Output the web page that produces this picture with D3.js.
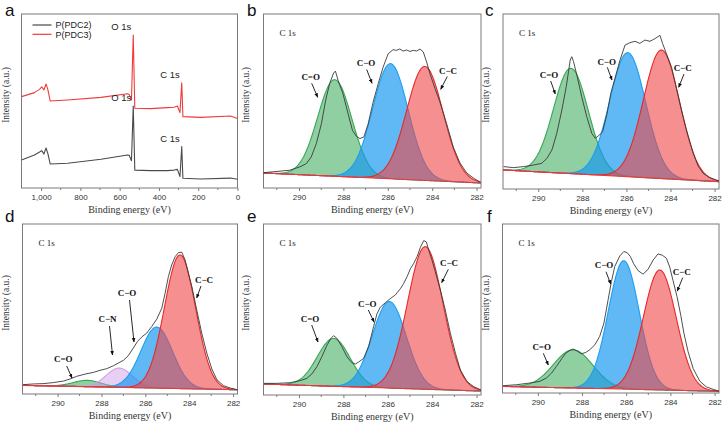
<!DOCTYPE html>
<html><head><meta charset="utf-8">
<script src="https://cdn.jsdelivr.net/npm/d3@7"></script>
<style>
html,body{margin:0;padding:0;background:#fff;}
svg{display:block;}
</style></head><body>
<svg id="chart" width="724" height="426"></svg>
<script>
// ================= DATA =================
// (a) XPS survey
const surveySeries = ["P(PDC2)", "P(PDC3)"];
const surveyEnergy = [1100,1034,1008,997,986,975,966,954,865,695,560,552,540,531,523,442,357,323,306,293,284,278,188,36,0];
const surveyPDC2   = [16.1,19.0,20.7,21.5,19.5,23.0,19.9,13.8,14.2,16.5,19.0,18.8,15.7,47.1,10.3,10.0,10.0,10.3,10.7,6.5,23.8,5.6,5.2,5.7,5.0];
const surveyPDC3   = [52.5,54.8,56.7,58.2,56.3,59.8,56.7,50.0,50.6,52.1,54.2,53.8,50.6,87.9,45.8,45.6,46.2,46.4,47.1,43.3,60.5,41.0,40.6,41.4,40.0];
const surveyXTicks = [1000,800,600,400,200,0];
const surveyXMinor = [900,700,500,300,100];

// (b–f) C 1s high-resolution spectra
const c1sXTicks = [290,288,286,284,282];
const c1sXMinor = [291,289,287,285,283];

const bEnergy = [291.60,290.43,289.97,289.67,289.45,289.22,288.99,288.80,288.62,288.44,288.36,288.24,288.02,287.79,287.59,287.41,287.26,287.08,286.89,286.66,286.43,286.21,285.98,285.76,285.61,285.46,285.31,285.15,285.00,284.85,284.70,284.55,284.40,284.25,284.10,283.87,283.65,283.35,283.05,282.75,282.44,282.14,281.84];
const bRaw    = [8.8,10.2,12.1,14.0,17.8,25.5,37.0,50.4,60.0,66.1,67.2,61.9,54.2,42.7,33.1,29.7,28.4,29.3,36.6,49.4,60.0,69.5,77.2,79.5,79.1,79.9,78.7,79.3,78.5,79.1,78.7,79.9,78.2,72.4,65.7,57.1,49.4,37.0,23.6,14.4,8.6,5.7,3.4];
const bBaseline = [8.6, 2.9];
const bPeaks  = ["C=O","C−O","C−C"];
const bCenter = [288.39,285.88,284.33];
const bHeight = [55.5,66.2,65.5];
const bFwhm   = [1.81,1.88,1.93];

const cEnergy = [291.57,291.12,290.66,290.21,289.84,289.61,289.38,289.16,288.93,288.73,288.63,288.55,288.48,288.40,288.25,288.03,287.80,287.57,287.42,287.27,287.08,286.89,286.71,286.52,286.29,286.06,285.84,285.61,285.39,285.16,284.93,284.71,284.48,284.36,284.18,283.95,283.73,283.50,283.27,282.97,282.75,282.52,282.22,281.80];
const cRaw    = [12.8,12.2,12.8,13.7,14.7,17.5,22.3,31.8,45.1,58.5,67.0,73.7,75.6,72.8,65.1,52.8,41.3,31.8,29.0,30.3,32.8,42.3,54.7,63.2,73.7,82.3,83.6,84.4,83.2,85.1,84.4,85.9,87.8,83.2,77.1,69.5,57.5,45.0,33.5,20.5,13.2,9.0,6.5,4.6];
const cBaseline = [10.9, 4.2];
const cPeaks  = ["C=O","C−O","C−C"];
const cCenter = [288.52,285.94,284.41];
const cHeight = [60.2,70.9,73.4];
const cFwhm   = [1.86,1.92,1.93];

const dEnergy = [291.57,291.11,290.66,290.20,289.74,289.44,289.13,288.75,288.37,288.07,287.76,287.46,287.23,287.00,286.78,286.55,286.36,286.17,285.94,285.71,285.48,285.25,285.10,284.95,284.80,284.64,284.49,284.34,284.19,284.04,283.88,283.66,283.43,283.20,282.97,282.74,282.44,282.13,281.80];
const dRaw    = [5.5,5.9,6.1,6.7,7.6,8.8,10.4,11.7,12.7,13.9,14.9,16.6,18.2,19.8,22.5,27.0,30.9,33.5,35.8,39.7,44.0,50.5,59.3,69.1,75.9,80.8,83.2,83.4,78.9,71.0,63.2,49.5,35.8,24.1,14.7,8.4,4.9,3.5,2.5];
const dBaseline = [5.1, 2.5];
const dPeaks  = ["C=O","C−N","C−O","C−C"];
const dCenter = [288.65,287.19,285.48,284.42];
const dHeight = [3.7,11.3,35.9,78.6];
const dFwhm   = [1.5,1.4,1.7,1.67];

const eEnergy = [291.57,291.00,290.40,289.95,289.65,289.42,289.19,288.97,288.74,288.56,288.44,288.29,288.07,287.84,287.62,287.46,287.31,287.09,286.86,286.64,286.49,286.34,286.11,285.89,285.66,285.43,285.28,285.13,284.98,284.83,284.68,284.53,284.38,284.26,284.16,284.01,283.86,283.63,283.41,283.18,282.95,282.73,282.43,282.13,281.80];
const eRaw    = [6.8,6.8,7.2,8.4,9.7,12.3,16.6,22.4,29.2,33.1,34.7,33.1,28.3,22.4,18.9,18.1,19.3,21.4,28.5,40.0,47.4,51.3,54.0,56.3,58.5,62.2,65.3,69.2,73.9,77.0,80.9,86.4,90.3,89.5,84.8,78.9,72.1,61.4,49.7,36.1,24.4,14.6,7.8,4.9,2.9];
const eBaseline = [6.4, 2.3];
const ePeaks  = ["C=O","C−O","C−C"];
const eCenter = [288.44,285.93,284.31];
const eHeight = [28.0,50.6,83.4];
const eFwhm   = [1.74,1.8,1.88];

const fEnergy = [291.57,290.97,290.36,289.91,289.61,289.38,289.16,288.93,288.73,288.55,288.40,288.22,288.03,287.83,287.65,287.42,287.20,287.01,286.82,286.67,286.52,286.29,286.11,285.96,285.81,285.66,285.46,285.24,285.01,284.78,284.56,284.36,284.18,284.03,283.88,283.70,283.53,283.39,283.20,282.97,282.67,282.37,282.07,281.80];
const fRaw    = [4.3,4.9,5.9,6.9,8.9,11.8,15.7,20.1,23.6,25.2,26.0,24.8,23.2,24.0,25.6,28.5,33.5,41.3,55.1,65.9,74.8,81.1,83.7,83.1,80.7,76.4,72.4,70.3,73.2,78.7,82.3,81.5,79.7,74.5,66.5,57.0,46.0,35.5,24.5,14.5,7.0,3.6,2.2,1.0];
const fBaseline = [3.9, 1.0];
const fPeaks  = ["C=O","C−O","C−C"];
const fCenter = [288.40,286.11,284.48];
const fHeight = [22.6,76.0,71.0];
const fFwhm   = [2.1,1.65,1.75];

// ================= LAYOUT / STYLE =================
const svg = d3.select("#chart");
const SANS = "'Liberation Sans', Arial, sans-serif";
const SERIF = "'Liberation Serif', 'Times New Roman', serif";
const frameColor = "#7b7b7b";
const C1S_DOMAIN = [291.6, 281.8];

const panels = {
  a: {x0: 21.5, x1: 237.5, y0: 14, y1: 188, tag: [5, 16], yt: [9, 95]},
  b: {x0: 263.5, x1: 481, y0: 14, y1: 188, tag: [247, 16], yt: [249, 95]},
  c: {x0: 503, x1: 719, y0: 14, y1: 189, tag: [485, 16], yt: [489, 95]},
  d: {x0: 22.5, x1: 237.5, y0: 224, y1: 394, tag: [5, 222], yt: [9, 303]},
  e: {x0: 263.5, x1: 481, y0: 224, y1: 395, tag: [247, 222], yt: [249, 303]},
  f: {x0: 502.5, x1: 719, y0: 224, y1: 393, tag: [487, 222], yt: [489, 303]}
};

const peakStyle = {
  "C=O": {fill: "rgb(70,175,100)", stroke: "#35a853", op: 0.6},
  "C−O": {fill: "rgb(20,150,240)", stroke: "#1a9ff0", op: 0.68},
  "C−C": {fill: "rgb(240,70,70)", stroke: "#e82828", op: 0.6},
  "C−N": {fill: "rgb(205,150,232)", stroke: "#d79be6", op: 0.45}
};

svg.append("defs").append("marker")
  .attr("id", "arr").attr("viewBox", "0 0 10 10").attr("refX", 9).attr("refY", 5)
  .attr("markerWidth", 5).attr("markerHeight", 5).attr("orient", "auto")
  .append("path").attr("d", "M0,1 L10,5 L0,9 Z").attr("fill", "#111");

function panelBase(P, key, xScale, majors, minors) {
  svg.append("rect").attr("x", P.x0).attr("y", P.y0)
    .attr("width", P.x1 - P.x0).attr("height", P.y1 - P.y0)
    .attr("fill", "none").attr("stroke", frameColor).attr("stroke-width", 1);
  const g = svg.append("g").attr("transform", `translate(0,${P.y1})`);
  g.call(d3.axisBottom(xScale).tickValues(majors).tickSize(3).tickSizeOuter(0).tickPadding(3));
  g.select(".domain").remove();
  g.selectAll("line").attr("stroke", frameColor);
  g.selectAll("text").attr("font-family", SANS).attr("font-size", 8).attr("fill", "#333");
  g.selectAll("line.minor").data(minors).enter().append("line").attr("class", "minor")
    .attr("x1", d => xScale(d)).attr("x2", d => xScale(d)).attr("y1", 0).attr("y2", 2)
    .attr("stroke", frameColor);
  svg.append("text").attr("x", (P.x0 + P.x1) / 2).attr("y", P.y1 + 24.5)
    .attr("text-anchor", "middle").attr("font-family", SERIF).attr("font-size", 10)
    .attr("fill", "#333").text("Binding energy (eV)");
  svg.append("text").attr("transform", `translate(${P.yt[0]},${P.yt[1]}) rotate(-90)`)
    .attr("text-anchor", "middle").attr("font-family", SERIF).attr("font-size", 9.5)
    .attr("fill", "#333").text("Intensity (a.u.)");
  svg.append("text").attr("x", P.tag[0]).attr("y", P.tag[1])
    .attr("font-family", SANS).attr("font-size", 17).attr("fill", "#111").text(key);
}

// ---------- panel a ----------
(function () {
  const P = panels.a;
  const x = d3.scaleLinear().domain([1100, 0]).range([P.x0, P.x1]);
  const y = d3.scaleLinear().domain([0, 100]).range([P.y1, P.y0]);
  panelBase(P, "a", x, surveyXTicks, surveyXMinor);
  const line = d3.line().x(d => x(d[0])).y(d => y(d[1]));
  const colors = ["#4a4a4a", "#f03a3a"];
  [surveyPDC2, surveyPDC3].forEach((vals, i) => {
    svg.append("path").datum(d3.zip(surveyEnergy, vals)).attr("d", line)
      .attr("fill", "none").attr("stroke", colors[i]).attr("stroke-width", 1.1)
      .attr("stroke-linejoin", "round");
  });
  surveySeries.forEach((s, i) => {
    const ly = P.y0 + 11 + i * 9.3;
    svg.append("line").attr("x1", P.x0 + 11).attr("x2", P.x0 + 30).attr("y1", ly).attr("y2", ly)
      .attr("stroke", colors[i]).attr("stroke-width", 1.2);
    svg.append("text").attr("x", P.x0 + 34).attr("y", ly + 3.2).attr("font-family", SANS)
      .attr("font-size", 9).attr("fill", "#222").text(s);
  });
  const ann = [["O 1s", 531, surveyPDC3[13]], ["C 1s", 284, surveyPDC3[20]],
               ["O 1s", 531, surveyPDC2[13]], ["C 1s", 284, surveyPDC2[20]]];
  ann.forEach(a => {
    svg.append("text").attr("x", x(a[1]) - 2).attr("y", y(a[2]) - 5)
      .attr("text-anchor", "end").attr("font-family", SANS).attr("font-size", 9.5)
      .attr("fill", "#222").text(a[0]);
  });
})();

// ---------- C 1s panels ----------
function drawC1s(key, energy, raw, baseline, names, centers, heights, fwhms, labels) {
  const P = panels[key];
  const x = d3.scaleLinear().domain(C1S_DOMAIN).range([P.x0, P.x1]);
  const y = d3.scaleLinear().domain([0, 100]).range([P.y1, P.y0]);
  panelBase(P, key, x, c1sXTicks, c1sXMinor);
  const base = d3.scaleLinear().domain(C1S_DOMAIN).range(baseline);
  const grid = d3.range(C1S_DOMAIN[0], C1S_DOMAIN[1] - 0.001, -0.04);
  const k = 4 * Math.LN2;
  names.forEach((n, i) => {
    const st = peakStyle[n];
    const comp = grid.map(e => [e, base(e), base(e) + heights[i] * Math.exp(-k * (e - centers[i]) ** 2 / (fwhms[i] ** 2))]);
    svg.append("path").datum(comp)
      .attr("d", d3.area().x(d => x(d[0])).y0(d => y(d[1])).y1(d => y(d[2])))
      .attr("fill", st.fill).attr("fill-opacity", st.op).attr("stroke", "none");
    svg.append("path").datum(comp)
      .attr("d", d3.line().x(d => x(d[0])).y(d => y(d[2])))
      .attr("fill", "none").attr("stroke", st.stroke).attr("stroke-width", 1.1);
  });
  svg.append("line").attr("x1", x(C1S_DOMAIN[0])).attr("x2", x(C1S_DOMAIN[1]))
    .attr("y1", y(baseline[0])).attr("y2", y(baseline[1]))
    .attr("stroke", "#e83a3a").attr("stroke-width", 1.1);
  svg.append("path").datum(d3.zip(energy, raw))
    .attr("d", d3.line().x(d => x(d[0])).y(d => y(d[1])))
    .attr("fill", "none").attr("stroke", "#3a3a3a").attr("stroke-width", 0.9)
    .attr("stroke-linejoin", "round");
  svg.append("text").attr("x", P.x0 + 16).attr("y", P.y0 + 22)
    .attr("font-family", SERIF).attr("font-size", 9).attr("fill", "#222").text("C 1s");
  labels.forEach(l => {
    svg.append("text").attr("x", P.x0 + l[1]).attr("y", P.y0 + l[2])
      .attr("text-anchor", "middle").attr("font-family", SERIF).attr("font-weight", "bold")
      .attr("font-size", 9).attr("fill", "#111").text(l[0]);
    svg.append("line").attr("x1", P.x0 + l[3]).attr("y1", P.y0 + l[4])
      .attr("x2", P.x0 + l[5]).attr("y2", P.y0 + l[6])
      .attr("stroke", "#111").attr("stroke-width", 0.9).attr("marker-end", "url(#arr)");
  });
}

drawC1s("b", bEnergy, bRaw, bBaseline, bPeaks, bCenter, bHeight, bFwhm, [
  ["C=O", 47.2, 66, 48.2, 69.3, 54.2, 83.3],
  ["C−O", 102.5, 52, 103.2, 55.5, 108.5, 69.3],
  ["C−C", 184.5, 59.5, 183.8, 62.5, 177.2, 75.3]]);
drawC1s("c", cEnergy, cRaw, cBaseline, cPeaks, cCenter, cHeight, cFwhm, [
  ["C=O", 46, 63.5, 47.7, 67, 52.3, 80],
  ["C−O", 103.7, 50.5, 104.3, 53.3, 109, 66],
  ["C−C", 179.7, 57, 181, 60, 175.7, 73.3]]);
drawC1s("d", dEnergy, dRaw, dBaseline, dPeaks, dCenter, dHeight, dFwhm, [
  ["C=O", 40.8, 137.5, 44.2, 142, 49.5, 154],
  ["C−N", 85, 98, 87, 102, 90, 131],
  ["C−O", 104.5, 72, 107, 76, 111.5, 118],
  ["C−C", 181.5, 58.5, 178.5, 62, 174.2, 74]]);
drawC1s("e", eEnergy, eRaw, eBaseline, ePeaks, eCenter, eHeight, eFwhm, [
  ["C=O", 46.5, 97.5, 48.2, 101, 54.5, 118],
  ["C−O", 103.8, 82.8, 104.8, 86, 110.5, 98],
  ["C−C", 185.5, 42, 184.8, 45.3, 178.2, 58.7]]);
drawC1s("f", fEnergy, fRaw, fBaseline, fPeaks, fCenter, fHeight, fFwhm, [
  ["C=O", 39.2, 126, 40.8, 129.3, 45.8, 141],
  ["C−O", 101.5, 43.5, 103.5, 47.7, 108.2, 60],
  ["C−C", 179.2, 50.5, 180.2, 53.7, 174.8, 67]]);
</script>
</body></html>
